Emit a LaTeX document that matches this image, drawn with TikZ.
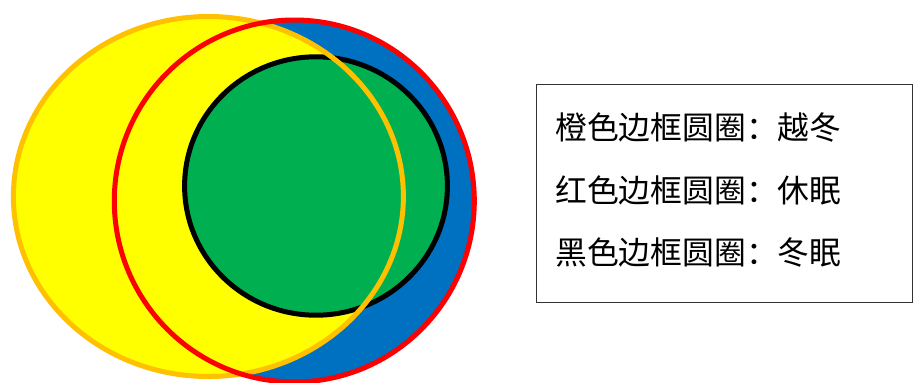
\documentclass[tikz,border=0pt]{standalone}
\usepackage{fontspec}
\newfontfamily\cjk{Noto Sans CJK SC}
\definecolor{cyel}{HTML}{FFFF00}
\definecolor{corg}{HTML}{FFC000}
\definecolor{cred}{HTML}{FF0000}
\definecolor{cblu}{HTML}{0070C0}
\definecolor{cgrn}{HTML}{00B050}
\begin{document}
\begin{tikzpicture}[x=1pt,y=-1pt,
  ring/.style={line width=5pt},
  legendtxt/.style={anchor=west,inner sep=0pt,font=\cjk\fontsize{31.8}{32}\selectfont}]
\useasboundingbox (0,0) rectangle (914,383);
% fills
\fill[cblu] (294.3,201) ellipse [x radius=180, y radius=181];
\fill[cyel] (208.4,196.5) ellipse [x radius=195, y radius=180];
\draw[ring,black,fill=cgrn] (316,186) ellipse [x radius=131.4, y radius=129.2];
% borders
\draw[ring,corg] (208.4,196.5) ellipse [x radius=195, y radius=180];
\draw[ring,cred] (294.3,201) ellipse [x radius=180, y radius=181];
% legend
\node[draw=black!80,line width=1.2pt,minimum width=376pt,minimum height=218pt,anchor=north west,inner sep=0pt] (box) at (536,84) {};
\node[legendtxt] (l1) at (555,127) {橙色边框圆圈：越冬};
\node[legendtxt] (l2) at (555,190) {红色边框圆圈：休眠};
\node[legendtxt] (l3) at (555,252) {黑色边框圆圈：冬眠};
\end{tikzpicture}
\end{document}
